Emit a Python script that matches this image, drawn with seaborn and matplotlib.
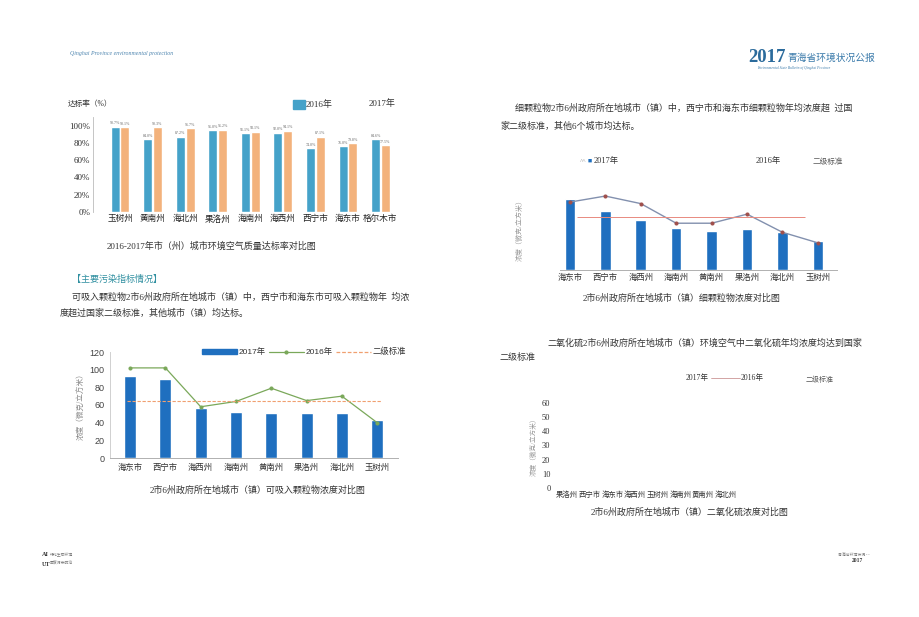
import numpy as np
import pandas as pd
import matplotlib
matplotlib.use("Agg")
import matplotlib.pyplot as plt
import seaborn as sns
from matplotlib.patches import Patch, Rectangle
from matplotlib.lines import Line2D

# ── Data ───────────────────────────────────────────
cities_rate = ["玉树州", "黄南州", "海北州", "果洛州", "海南州", "海西州", "西宁市", "海东市", "格尔木市"]
rate_2016 = [98.7, 84.0, 87.2, 95.0, 91.1, 92.0, 74.0, 76.0, 84.6]
rate_2017 = [98.1, 98.3, 96.7, 95.2, 93.1, 94.1, 87.1, 79.8, 77.5]
rate_ticks = [0, 20, 40, 60, 80, 100]

cities_pm = ["海东市", "西宁市", "海西州", "海南州", "黄南州", "果洛州", "海北州", "玉树州"]
pm10_2017 = [93, 89, 57, 52, 51, 51, 51, 43]
pm10_2016 = [102, 102, 58, 64, 79, 65, 70, 40]
pm10_std = 64
pm10_ticks = [0, 20, 40, 60, 80, 100, 120]

pm25_2017 = [47, 39, 33, 28, 26, 27, 25, 19]
pm25_2016 = [45, 49, 44, 31, 31, 37, 25, 18]
pm25_std = 35

cities_so2 = ["果洛州", "西宁市", "海东市", "海西州", "玉树州", "海南州", "黄南州", "海北州"]
so2_ticks = [0, 10, 20, 30, 40, 50, 60]

# ── Page setup ─────────────────────────────────────
sns.set_theme(style="white")
plt.rcParams["font.family"] = ["Liberation Serif", "Noto Sans CJK SC"]
plt.rcParams["axes.unicode_minus"] = False

W, H = 920, 617
fig = plt.figure(figsize=(W / 100, H / 100), dpi=100)


def fx(x):
    return x / W


def fy(y):
    return 1 - y / H


def add_ax(left, top, right, bottom):
    return fig.add_axes([left / W, 1 - bottom / H, (right - left) / W, (bottom - top) / H])


def txt(x, y, s, size=6.5, color="#333333", **kw):
    fig.text(fx(x), fy(y), s, fontsize=size, color=color, va="center", **kw)


BLUE16 = "#45a2c9"
ORANGE17 = "#f3b27c"
BAR_BLUE = "#1f6fbf"
GREEN = "#7aa85a"
STD_ORANGE = "#f0a070"
SANS = ["Liberation Sans", "Noto Sans CJK SC"]

# ── Header / footer ────────────────────────────────
txt(70, 53, "Qinghai Province environmental protection", size=4.2, color="#4f86b0", style="italic")
txt(748, 57, "2017", size=13.5, color="#2b6b9c", weight="bold")
txt(787, 58, "青海省环境状况公报", size=7, color="#3b7bab")
txt(757, 68, "Environmental State Bulletin of Qinghai Province", size=2.6, color="#3b7bab", style="italic")
txt(42, 554, "AI", size=4.5, color="#333333", weight="bold")
txt(50, 554, "绿化生态环境", size=2.8, color="#777777")
txt(42, 564, "UT", size=4.5, color="#333333", weight="bold")
txt(50, 564, "固废污染防治", size=2.8, color="#777777")
txt(838, 555, "青海省环境状况 ² ³", size=2.8, color="#777777")
txt(852, 560, "2017", size=4, color="#333333", weight="bold")

# ── Chart 1: attainment rate ───────────────────────
df1 = pd.DataFrame({
    "city": cities_rate * 2,
    "rate": rate_2016 + rate_2017,
    "year": ["2016年"] * len(cities_rate) + ["2017年"] * len(cities_rate),
})
ax1 = add_ax(93, 117, 400, 212)
sns.barplot(data=df1, x="city", y="rate", hue="year", palette=[BLUE16, ORANGE17],
            width=0.6, gap=0.08, saturation=1, ax=ax1, legend=False)
for cont in ax1.containers:
    ax1.bar_label(cont, fmt="{:.1f}%", fontsize=2.9, color="#666666", padding=1)
ax1.set_xlim(-0.83, 8.6)
ax1.set_ylim(0, 110)
ax1.set_yticks(rate_ticks)
ax1.set_yticklabels([f"{t}%" for t in rate_ticks], fontsize=6.5, color="#333333")
ax1.set_xticks(range(len(cities_rate)))
ax1.set_xticklabels(cities_rate, fontsize=6.2, color="#222222")
ax1.set_xlabel("")
ax1.set_ylabel("")
ax1.tick_params(axis="both", length=0, pad=2)
for s in ["top", "right", "bottom"]:
    ax1.spines[s].set_visible(False)
ax1.spines["left"].set_color("#bbbbbb")
ax1.spines["left"].set_linewidth(0.6)

txt(68, 104, "达标率（%）", size=5.5)
fig.add_artist(Rectangle((fx(293), fy(109)), 12 / W, 9 / H, color=BLUE16, transform=fig.transFigure))
txt(306, 105, "2016年", size=6.5)
txt(369, 104, "2017年", size=6.5)
txt(212, 246, "2016-2017年市（州）城市环境空气质量达标率对比图", size=6.5, ha="center")

# ── Left text ──────────────────────────────────────
txt(72, 279, "【主要污染指标情况】", size=6.5, color="#2f8fa0")
txt(72, 297, "可吸入颗粒物2市6州政府所在地城市（镇）中，西宁市和海东市可吸入颗粒物年  均浓", size=6.5)
txt(60, 313, "度超过国家二级标准，其他城市（镇）均达标。", size=6.5)

# ── Chart 2: PM10 ──────────────────────────────────
ax2 = add_ax(110, 352, 398, 458)
sns.barplot(x=np.arange(len(cities_pm)), y=pm10_2017, color=BAR_BLUE, width=0.34,
            saturation=1, ax=ax2)
sns.lineplot(x=np.arange(len(cities_pm)), y=pm10_2016, color=GREEN, lw=0.9,
             marker="o", ms=2.2, mec=GREEN, ax=ax2)
ax2.hlines(pm10_std, -0.1, len(cities_pm) - 0.9, colors=STD_ORANGE, lw=0.8, linestyles=(0, (3, 1.5)))
ax2.set_xlim(-0.57, 7.59)
ax2.set_ylim(0, 120)
ax2.set_yticks(pm10_ticks)
ax2.set_yticklabels([str(t) for t in pm10_ticks], fontsize=6.5, color="#444444", family=SANS)
ax2.set_xticks(range(len(cities_pm)))
ax2.set_xticklabels(cities_pm, fontsize=6, color="#333333")
ax2.tick_params(axis="both", length=0, pad=4)
for s in ["top", "right"]:
    ax2.spines[s].set_visible(False)
ax2.spines["left"].set_color("#d0d0d0")
ax2.spines["bottom"].set_color("#b0b0b0")
for s in ["left", "bottom"]:
    ax2.spines[s].set_linewidth(0.7)
ax2.set_ylabel("浓度（微克/立方米）", fontsize=5.5, color="#888888", labelpad=3)
handles2 = [
    Patch(color=BAR_BLUE, label="2017年"),
    Line2D([], [], color=GREEN, lw=0.9, marker="o", ms=2, label="2016年"),
    Line2D([], [], color=STD_ORANGE, lw=0.9, ls=(0, (3, 1.5)), label="二级标准"),
]
ax2.legend(handles=handles2, ncol=3, frameon=False, loc="center",
           bbox_to_anchor=(fx(304), fy(352)), bbox_transform=fig.transFigure,
           handlelength=4.2, handleheight=0.55, columnspacing=0.4, handletextpad=0.2,
           prop={"family": SANS, "size": 6}, labelcolor="#333333")
txt(258, 490, "2市6州政府所在地城市（镇）可吸入颗粒物浓度对比图", size=6.5, ha="center")

# ── Right text ─────────────────────────────────────
txt(515, 108, "细颗粒物2市6州政府所在地城市（镇）中，西宁市和海东市细颗粒物年均浓度超  过国", size=6.5)
txt(500, 126, "家二级标准，其他6个城市均达标。", size=6.5)

# ── Chart 3: PM2.5 ─────────────────────────────────
ax3 = add_ax(560, 187, 837, 270)
sns.barplot(x=np.arange(len(cities_pm)), y=pm25_2017, color=BAR_BLUE, width=0.3,
            saturation=1, ax=ax3)
sns.lineplot(x=np.arange(len(cities_pm)), y=pm25_2016, color="#8290ae", lw=1.0,
             marker="o", ms=2.2, mfc="#a0504c", mec="#a0504c", ax=ax3)
ax3.hlines(pm25_std, 0.2, 6.65, colors="#e88a80", lw=0.7)
ax3.set_xlim(-0.28, 7.54)
ax3.set_ylim(0, 55)
ax3.set_yticks([])
ax3.set_xticks(range(len(cities_pm)))
ax3.set_xticklabels(cities_pm, fontsize=6, color="#333333")
ax3.tick_params(axis="x", length=0, pad=3)
for s in ["top", "right", "left"]:
    ax3.spines[s].set_visible(False)
ax3.spines["bottom"].set_color("#b0b0b0")
ax3.spines["bottom"].set_linewidth(0.7)
ax3.set_ylabel("浓度（微克/立方米）", fontsize=5, color="#999999", labelpad=27)
txt(580, 161, "^^", size=5, color="#999999")
txt(588, 161, "■", size=5, color=BAR_BLUE)
txt(594, 161, "2017年", size=6)
txt(756, 161, "2016年", size=6)
txt(813, 162, "二级标准", size=5.5, color="#555555")
txt(682, 298, "2市6州政府所在地城市（镇）细颗粒物浓度对比图", size=6.5, ha="center")

# ── Right text 2 ───────────────────────────────────
txt(548, 343, "二氧化硫2市6州政府所在地城市（镇）环境空气中二氧化硫年均浓度均达到国家", size=6.5)
txt(500, 357, "二级标准", size=6.5)

# ── Chart 4: SO2 (empty frame) ─────────────────────
ax4 = add_ax(556, 403, 737, 488)
ax4.set_xlim(-0.5, len(cities_so2) - 0.5)
ax4.set_ylim(0, 60)
ax4.set_yticks(so2_ticks)
ax4.set_yticklabels([str(t) for t in so2_ticks], fontsize=6, color="#333333")
ax4.set_xticks(range(len(cities_so2)))
ax4.set_xticklabels(cities_so2, fontsize=5.3, color="#333333")
ax4.tick_params(axis="both", length=0, pad=4)
ax4.tick_params(axis="x", pad=2)
for s in ax4.spines.values():
    s.set_visible(False)
ax4.set_ylabel("浓度（微克/立方米）", fontsize=4.8, color="#999999", labelpad=4)
txt(686, 378, "2017年", size=5.5)
fig.add_artist(Line2D([fx(711), fx(740)], [fy(378), fy(378)], color="#c08080", lw=0.5,
                      transform=fig.transFigure))
txt(741, 378, "2016年", size=5.5)
txt(806, 379, "二级标准", size=5, color="#555555")
txt(690, 512, "2市6州政府所在地城市（镇）二氧化硫浓度对比图", size=6.5, ha="center")

fig.savefig("out.png", dpi=100, facecolor="white")
